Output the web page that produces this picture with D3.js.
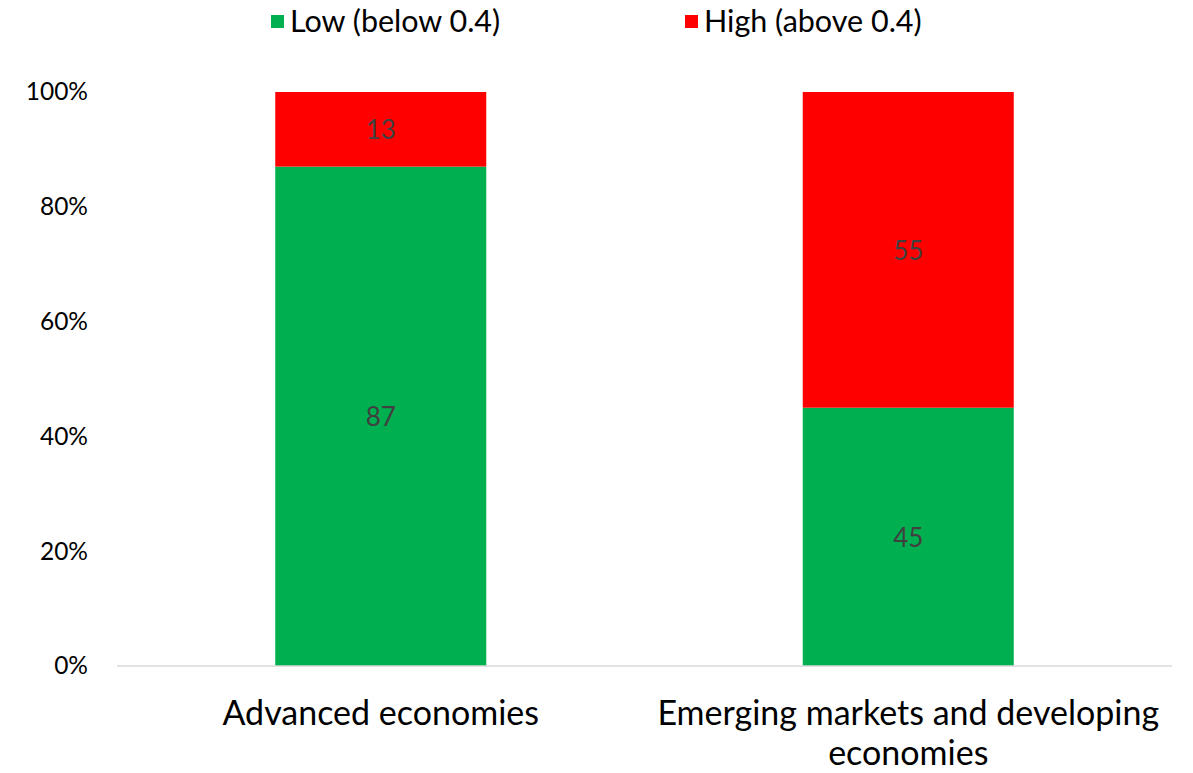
<!DOCTYPE html>
<html>
<head>
<meta charset="utf-8">
<script src="https://cdn.jsdelivr.net/npm/d3@7"></script>
<style>
  html, body { margin: 0; padding: 0; background: #fff; }
  svg text { font-family: "Lato", "Open Sans", sans-serif; }
</style>
</head>
<body>
<svg id="chart" width="1193" height="773"></svg>
<script>
// Share of economies by level (percent of each group)
const categories = ["Advanced economies", "Emerging markets and developing economies"];
const categoryLines = [["Advanced economies"], ["Emerging markets and developing", "economies"]];
const seriesNames = ["Low (below 0.4)", "High (above 0.4)"];
const lowValues = [87, 45];
const highValues = [13, 55];
const yTicks = [0, 20, 40, 60, 80, 100];
const colors = ["#00B050", "#FF0000"];

const svg = d3.select("#chart");
const margin = { left: 117, right: 21, top: 92, bottom: 107 };
const width = 1193, height = 773;

const x = d3.scaleBand()
  .domain(categories)
  .range([margin.left, width - margin.right])
  .paddingInner(0.6)
  .paddingOuter(0.3);

const y = d3.scaleLinear()
  .domain([0, 100])
  .range([height - margin.bottom, margin.top]);

const rows = categories.map((c, i) => ({ category: c, low: lowValues[i], high: highValues[i] }));
const stacked = d3.stack().keys(["low", "high"])(rows);

// Stacked bars
stacked.forEach((layer, li) => {
  svg.append("g")
    .selectAll("rect")
    .data(layer)
    .join("rect")
    .attr("x", d => x(d.data.category))
    .attr("width", x.bandwidth())
    .attr("y", d => y(d[1]))
    .attr("height", d => y(d[0]) - y(d[1]))
    .attr("fill", colors[li]);
});

// Segment value labels
stacked.forEach(layer => {
  svg.append("g")
    .selectAll("text")
    .data(layer)
    .join("text")
    .attr("x", d => x(d.data.category) + x.bandwidth() / 2)
    .attr("y", d => (y(d[0]) + y(d[1])) / 2)
    .attr("text-anchor", "middle")
    .attr("dominant-baseline", "central")
    .attr("fill", "#404040")
    .attr("font-size", 26)
    .text(d => d[1] - d[0]);
});

// Baseline
svg.append("line")
  .attr("x1", margin.left).attr("x2", width - margin.right)
  .attr("y1", y(0)).attr("y2", y(0))
  .attr("stroke", "#d9d9d9").attr("stroke-width", 1.5);

// Y axis
const yAxis = d3.axisLeft(y).tickValues(yTicks).tickFormat(d => d + "%").tickSize(0).tickPadding(0);
const gy = svg.append("g").attr("transform", `translate(${margin.left - 29},0)`).call(yAxis);
gy.select(".domain").remove();
gy.selectAll("text").attr("font-size", 24.5).attr("fill", "#000").attr("font-family", null);

// Category labels
const gx = svg.append("g");
categoryLines.forEach((lines, i) => {
  const t = gx.append("text")
    .attr("x", x(categories[i]) + x.bandwidth() / 2)
    .attr("y", 725)
    .attr("text-anchor", "middle")
    .attr("font-size", 34)
    .attr("fill", "#000");
  lines.forEach((ln, j) => {
    t.append("tspan")
      .attr("x", x(categories[i]) + x.bandwidth() / 2)
      .attr("dy", j === 0 ? 0 : 40)
      .text(ln);
  });
});

// Legend
const legendX = [271, 685];
const legend = svg.append("g");
seriesNames.forEach((name, i) => {
  legend.append("rect")
    .attr("x", legendX[i]).attr("y", 15)
    .attr("width", 13).attr("height", 13)
    .attr("fill", colors[i]);
  legend.append("text")
    .attr("x", legendX[i] + 19).attr("y", 32)
    .attr("font-size", 30.5)
    .attr("fill", "#000")
    .text(name);
});
</script>
</body>
</html>
